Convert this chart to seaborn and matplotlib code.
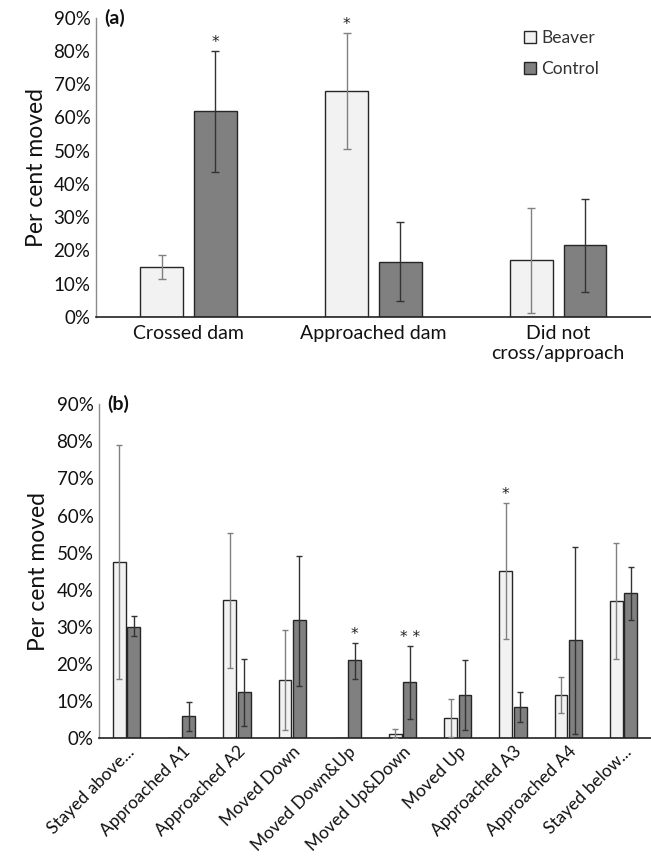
import numpy as np
import pandas as pd
import matplotlib
matplotlib.use("Agg")
import matplotlib.pyplot as plt
from matplotlib.patches import Patch
from matplotlib.ticker import FuncFormatter
import seaborn as sns

# ---- data: panel (a) ----
cats_a = ["Crossed dam", "Approached dam", "Did not\ncross/approach"]
beaver_a = [15.0, 68.0, 17.2]
beaver_a_lo = [11.4, 50.6, 1.2]
beaver_a_hi = [18.7, 85.3, 32.9]
control_a = [62.0, 16.5, 21.6]
control_a_lo = [43.5, 4.8, 7.5]
control_a_hi = [80.0, 28.5, 35.6]
stars_a = {("Control", 0): "*", ("Beaver", 1): "*"}

# ---- data: panel (b) ----
cats_b = ["Stayed above...", "Approached A1", "Approached A2", "Moved Down",
          "Moved Down&Up", "Moved Up&Down", "Moved Up", "Approached A3",
          "Approached A4", "Stayed below..."]
beaver_b = [47.4, 0.0, 37.2, 15.7, 0.0, 1.2, 5.5, 45.0, 11.6, 37.0]
beaver_b_lo = [15.8, np.nan, 19.0, 2.1, np.nan, 0.0, 0.3, 26.6, 6.8, 21.2]
beaver_b_hi = [79.0, np.nan, 55.4, 29.0, np.nan, 2.3, 10.6, 63.4, 16.5, 52.6]
control_b = [29.9, 5.8, 12.4, 31.7, 20.9, 15.0, 11.6, 8.3, 26.3, 39.0]
control_b_lo = [27.4, 1.8, 3.3, 14.0, 16.0, 5.1, 2.2, 4.4, 1.0, 31.9]
control_b_hi = [32.8, 9.8, 21.3, 49.2, 25.6, 24.8, 21.1, 12.4, 51.4, 46.2]
stars_b = {("Control", 4): "*", ("Control", 5): "* *", ("Beaver", 7): "*"}

groups = ["Beaver", "Control"]
fill = {"Beaver": "#f2f2f2", "Control": "#808080"}
errc = {"Beaver": "#808080", "Control": "#333333"}

sns.set_theme(style="white")
plt.rcParams["font.family"] = ["Lato", "DejaVu Sans"]

fig = plt.figure(figsize=(6.51, 8.6), dpi=100)
ax_a = fig.add_axes([0.1475, 0.6314, 0.852, 0.348])
ax_b = fig.add_axes([0.152, 0.1419, 0.848, 0.388])


def panel(ax, cats, b, blo, bhi, c, clo, chi, stars, width, gap, cap, lbl):
    df = pd.DataFrame({
        "cat": cats * 2,
        "grp": ["Beaver"] * len(cats) + ["Control"] * len(cats),
        "val": list(b) + list(c),
    })
    sns.barplot(data=df, x="cat", y="val", hue="grp", order=cats,
                hue_order=groups, palette=fill, width=width, gap=gap,
                edgecolor="#262626", linewidth=1.0, errorbar=None,
                legend=False, ax=ax)
    errs = {"Beaver": (b, blo, bhi), "Control": (c, clo, chi)}
    for cont, g in zip(ax.containers, groups):
        vals, lo, hi = errs[g]
        xs = [p.get_x() + p.get_width() / 2 for p in cont.patches]
        vals = np.asarray(vals, float)
        lo = np.asarray(lo, float)
        hi = np.asarray(hi, float)
        ax.errorbar(xs, vals, yerr=[vals - lo, hi - vals], fmt="none",
                    ecolor=errc[g], elinewidth=1.0, capsize=cap,
                    capthick=1.0, zorder=3)
        for i, x in enumerate(xs):
            if (g, i) in stars:
                ax.text(x, hi[i] + 0.3, stars[(g, i)], ha="center",
                        va="bottom", fontsize=11, color="#222222",
                        family="DejaVu Sans")
    ax.set_ylim(0, 90)
    ax.set_xlim(-0.5, len(cats) - 0.5)
    ax.set_yticks(np.arange(0, 91, 10))
    ax.yaxis.set_major_formatter(FuncFormatter(lambda v, p: f"{v:.0f}%"))
    ax.tick_params(axis="y", labelsize=13.5, length=0, pad=4, labelcolor="#111111")
    ax.set_xlabel("")
    ax.set_ylabel("Per cent moved", fontsize=16.5, color="#111111", labelpad=5)
    for s in ["top", "right"]:
        ax.spines[s].set_visible(False)
    ax.spines["left"].set_color("#8c8c8c")
    ax.spines["left"].set_linewidth(1.0)
    ax.spines["bottom"].set_color("#222222")
    ax.spines["bottom"].set_linewidth(1.2)
    ax.text(0.015, 1.0, lbl, transform=ax.transAxes, fontsize=14,
            fontweight="bold", ha="left", va="center", color="#111111")


panel(ax_a, cats_a, beaver_a, beaver_a_lo, beaver_a_hi, control_a,
      control_a_lo, control_a_hi, stars_a, 0.58, 0.2, 3, "(a)")
ax_a.tick_params(axis="x", labelsize=14, length=0, pad=6, labelcolor="#111111")

panel(ax_b, cats_b, beaver_b, beaver_b_lo, beaver_b_hi, control_b,
      control_b_lo, control_b_hi, stars_b, 0.52, 0.1, 2.5, "(b)")
ax_b.tick_params(axis="x", labelsize=12.5, length=0, pad=4, labelcolor="#111111")
for t in ax_b.get_xticklabels():
    t.set_rotation(45)
    t.set_ha("right")
    t.set_rotation_mode("anchor")

handles = [Patch(facecolor=fill[g], edgecolor="#262626", linewidth=1.0, label=g)
           for g in groups]
ax_a.legend(handles=handles, loc="upper right", bbox_to_anchor=(0.935, 1.01),
            frameon=False, fontsize=12.5, handlelength=0.7, handleheight=0.7,
            handletextpad=0.3, labelspacing=0.85, labelcolor="#333333")

fig.savefig("out.png", dpi=100)
